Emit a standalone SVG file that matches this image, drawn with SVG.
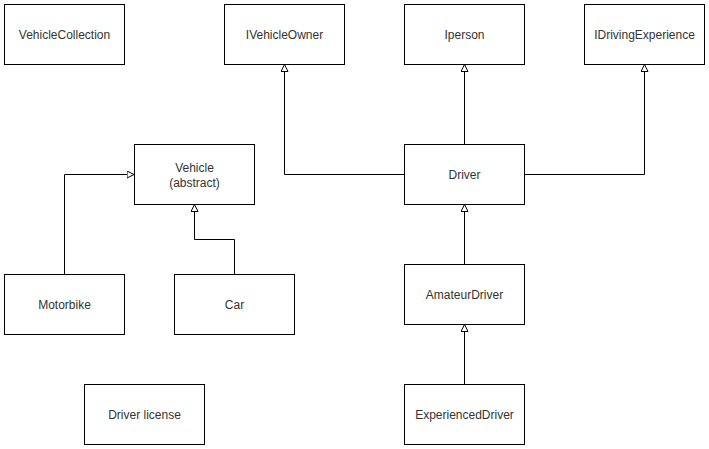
<svg xmlns="http://www.w3.org/2000/svg" width="709" height="449" viewBox="0 0 709 449">
<style>
.box{fill:#fff;stroke:#000;stroke-width:1}
.lbl{font-family:"Liberation Sans",Arial,sans-serif;font-size:12px;fill:#333;text-anchor:middle;dominant-baseline:central}
.edge{fill:none;stroke:#000;stroke-width:1}
</style>
<defs>
<marker id="tri" viewBox="0 0 8 8" refX="7.5" refY="4" markerWidth="8" markerHeight="8" markerUnits="userSpaceOnUse" orient="auto">
<path d="M0.5,0.5 L7.5,4 L0.5,7.5 Z" fill="#fff" stroke="#000" stroke-width="1"/>
</marker>
</defs>
<rect width="709" height="449" fill="#fff"/>
<g id="connectors">
<path class="edge" d="M64.5,274 V174.5 H134" marker-end="url(#tri)"/>
<path class="edge" d="M234.5,274 V239.5 H194.5 V204.5" marker-end="url(#tri)"/>
<path class="edge" d="M404,174.5 H284.5 V64.5" marker-end="url(#tri)"/>
<path class="edge" d="M464.5,144 V64.5" marker-end="url(#tri)"/>
<path class="edge" d="M524,174.5 H644.5 V64.5" marker-end="url(#tri)"/>
<path class="edge" d="M464.5,264 V204.5" marker-end="url(#tri)"/>
<path class="edge" d="M464.5,384 V324.5" marker-end="url(#tri)"/>
</g>
<g id="VehicleCollection"><rect class="box" x="4.5" y="4.5" width="120" height="60"/><text class="lbl" x="64.5" y="34.5">VehicleCollection</text></g>
<g id="IVehicleOwner"><rect class="box" x="224.5" y="4.5" width="120" height="60"/><text class="lbl" x="284.5" y="34.5">IVehicleOwner</text></g>
<g id="Iperson"><rect class="box" x="404.5" y="4.5" width="120" height="60"/><text class="lbl" x="464.5" y="34.5">Iperson</text></g>
<g id="IDrivingExperience"><rect class="box" x="584.5" y="4.5" width="120" height="60"/><text class="lbl" x="644.5" y="34.5">IDrivingExperience</text></g>
<g id="Vehicle"><rect class="box" x="134.5" y="144.5" width="120" height="60"/><text class="lbl" x="194.5" y="167.5">Vehicle</text><text class="lbl" x="194.5" y="182.5">(abstract)</text></g>
<g id="Driver"><rect class="box" x="404.5" y="144.5" width="120" height="60"/><text class="lbl" x="464.5" y="174.5">Driver</text></g>
<g id="Motorbike"><rect class="box" x="4.5" y="274.5" width="120" height="60"/><text class="lbl" x="64.5" y="304.5">Motorbike</text></g>
<g id="Car"><rect class="box" x="174.5" y="274.5" width="120" height="60"/><text class="lbl" x="234.5" y="304.5">Car</text></g>
<g id="AmateurDriver"><rect class="box" x="404.5" y="264.5" width="120" height="60"/><text class="lbl" x="464.5" y="294.5">AmateurDriver</text></g>
<g id="DriverLicense"><rect class="box" x="84.5" y="384.5" width="120" height="60"/><text class="lbl" x="144.5" y="414.5">Driver license</text></g>
<g id="ExperiencedDriver"><rect class="box" x="404.5" y="384.5" width="120" height="60"/><text class="lbl" x="464.5" y="414.5">ExperiencedDriver</text></g>
</svg>
